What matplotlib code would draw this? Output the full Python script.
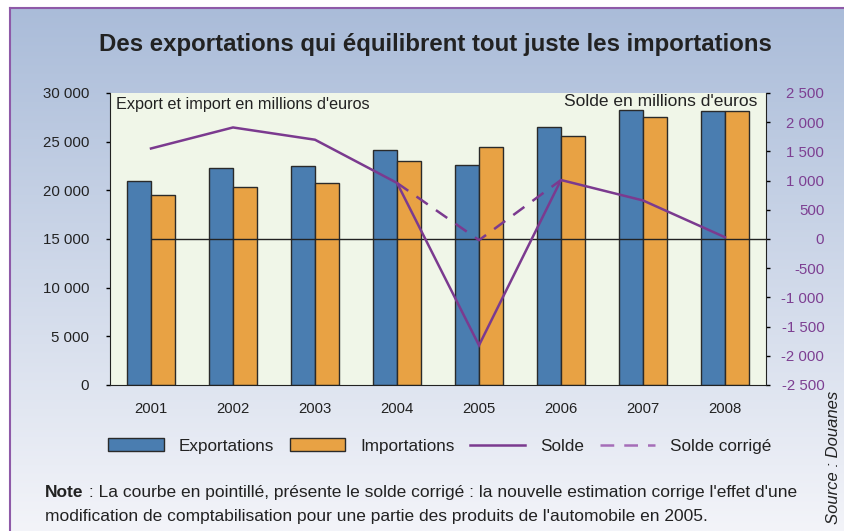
import matplotlib
matplotlib.use("Agg")
import matplotlib.pyplot as plt
import numpy as np
from matplotlib.lines import Line2D
from matplotlib.patches import Patch

years = ["2001", "2002", "2003", "2004", "2005", "2006", "2007", "2008"]
exports = [21000, 22300, 22450, 24100, 22650, 26550, 28250, 28150]
imports = [19550, 20300, 20750, 23050, 24500, 25550, 27550, 28150]
solde = [1550, 1910, 1700, 960, -1820, 1010, 660, 30]
solde_corr_years = [3, 4, 5]
solde_corr = [960, -20, 1010]

left_ticks = [0, 5000, 10000, 15000, 20000, 25000, 30000]
left_labels = ["0", "5 000", "10 000", "15 000", "20 000", "25 000", "30 000"]
right_ticks = [-2500, -2000, -1500, -1000, -500, 0, 500, 1000, 1500, 2000, 2500]
right_labels = ["-2 500", "-2 000", "-1 500", "-1 000", "-500", "0", "500",
                "1 000", "1 500", "2 000", "2 500"]

FONT = ["Liberation Sans", "DejaVu Sans"]

BLUE = "#4A7DB0"
ORANGE = "#E8A244"
PURPLE = "#7B3A8F"
RPURPLE = "#7D3F92"
TXT = "#222222"
W, H = 844, 531

fig = plt.figure(figsize=(W / 100, H / 100), dpi=100)
fig.patch.set_facecolor("white")

# background gradient box
bg = fig.add_axes([0, 0, 1, 1], zorder=-10)
bg.set_xlim(0, W)
bg.set_ylim(H, 0)
bg.axis("off")
top = np.array([0xAA, 0xBC, 0xD9]) / 255
bot = np.array([0xF3, 0xF4, 0xF9]) / 255
t = np.linspace(0, 1, 256)[:, None]
grad = top[None, :] * (1 - t) + bot[None, :] * t
grad = np.repeat(grad[:, None, :], 2, axis=1)
bg.imshow(grad, extent=[10, W, H, 8], aspect="auto", interpolation="bilinear")
bg.plot([10, W], [8, 8], color="#8E5AA8", lw=1.5)
bg.plot([10, 10], [8, H], color="#8E5AA8", lw=1.5)

# main axes
l, r, tp, bt = 110, 766, 93, 385
ax = fig.add_axes([l / W, 1 - bt / H, (r - l) / W, (bt - tp) / H])
ax.set_facecolor("#F0F6E8")
x = np.arange(len(years))
bw = 0.29
ax.bar(x - bw / 2, exports, bw, color=BLUE, edgecolor="#2A2A2A", linewidth=1.0)
ax.bar(x + bw / 2, imports, bw, color=ORANGE, edgecolor="#2A2A2A", linewidth=1.0)
ax.set_xlim(-0.5, len(years) - 0.5)
ax.set_ylim(0, 30000)
ax.set_yticks(left_ticks)
ax.set_yticklabels(left_labels, fontfamily=FONT, fontsize=10.8, color=TXT)
ax.set_xticks(x)
ax.set_xticklabels(years, fontfamily=FONT, fontsize=10.7, color=TXT)
ax.tick_params(axis="x", length=0, pad=12.5)
ax.tick_params(axis="y", length=3, width=1, direction="out", pad=12)
for s in ["top", "right"]:
    ax.spines[s].set_visible(False)
ax.spines["left"].set_color(TXT)
ax.spines["bottom"].set_color(TXT)

ax2 = ax.twinx()
ax2.set_ylim(-2500, 2500)
ax2.set_yticks(right_ticks)
ax2.set_yticklabels(right_labels, fontfamily=FONT, fontsize=10.8, color=RPURPLE,
                    ha="right")
ax2.tick_params(axis="y", length=3, width=1, direction="out", pad=39)
for s in ["top", "left", "bottom"]:
    ax2.spines[s].set_visible(False)
ax2.spines["right"].set_color(TXT)
ax2.hlines(0, 0, len(years) - 0.5, color=TXT, lw=1.0)
ax2.plot(x, solde, color=PURPLE, lw=1.8, solid_joinstyle="miter")
ax2.plot(solde_corr_years, solde_corr, color=PURPLE, lw=1.8, dashes=(5.5, 4))

fig.text(116 / W, 1 - 104 / H, "Export et import en millions d'euros",
         fontfamily=FONT, fontsize=11.7, color=TXT, ha="left", va="center")
fig.text(757 / W, 1 - 102 / H, "Solde en millions d'euros",
         fontfamily=FONT, fontsize=12.5, color=TXT, ha="right", va="center")

fig.text(435 / W, 1 - 45 / H, "Des exportations qui équilibrent tout juste les importations",
         fontfamily=FONT, fontweight="bold", fontsize=17.3, color=TXT,
         ha="center", va="center")

handles = [
    Patch(facecolor=BLUE, edgecolor="#2A2A2A", linewidth=1.0),
    Patch(facecolor=ORANGE, edgecolor="#2A2A2A", linewidth=1.0),
    Line2D([], [], color=PURPLE, lw=1.8),
    Line2D([], [], color="#A56DB8", lw=1.8, dashes=(5.5, 4)),
]
leg = fig.legend(handles, ["Exportations", "Importations", "Solde", "Solde corrigé"],
                 loc="center", bbox_to_anchor=(440 / W, 1 - 446 / H), ncol=4,
                 frameon=False, prop={"family": FONT, "size": 12.3},
                 handlelength=3.25, handleheight=0.76, handletextpad=0.88,
                 columnspacing=0.9)
for txt in leg.get_texts():
    txt.set_color(TXT)

NOTE_Y = 1 - 497 / H
note = fig.text(45 / W, NOTE_Y, "Note", fontfamily=FONT, fontweight="bold",
                fontsize=12.5, color=TXT, ha="left", va="baseline")
fig.canvas.draw()
ext = note.get_window_extent(renderer=fig.canvas.get_renderer())
fig.text(ext.x1 / W, NOTE_Y,
         " : La courbe en pointillé, présente le solde corrigé : la nouvelle estimation corrige l'effet d'une",
         fontfamily=FONT, fontsize=12.5, color=TXT, ha="left", va="baseline")
fig.text(45 / W, 1 - 521 / H,
         "modification de comptabilisation pour une partie des produits de l'automobile en 2005.",
         fontfamily=FONT, fontsize=12.5, color=TXT, ha="left", va="baseline")

fig.text(833 / W, 1 - 457 / H, "Source : Douanes", rotation=90, fontfamily=FONT,
         fontstyle="italic", fontsize=12, color=TXT, ha="center", va="center")

fig.savefig("out.png", dpi=100)
